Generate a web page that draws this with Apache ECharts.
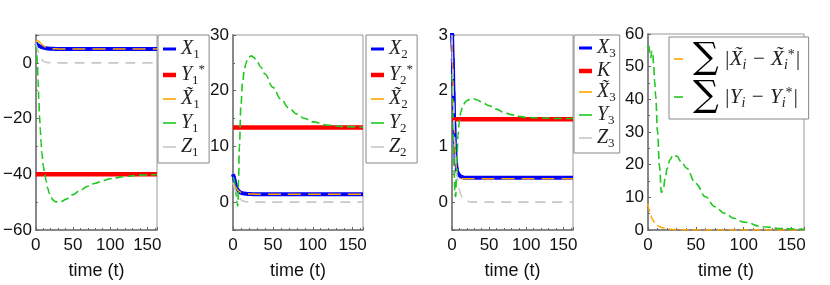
<!DOCTYPE html>
<html><head><meta charset="utf-8">
<script src="https://cdn.jsdelivr.net/npm/echarts@6/dist/echarts.min.js"></script>
<style>html,body{margin:0;padding:0;background:#fff}#c{width:830px;height:285px}</style>
</head><body><div id="c"></div>
<script>
// time points shared by all series
const T = [0,1,2,3,4,5,6,7,8,10,12,14,16,18,20,23,26,30,35,40,50,60,70,80,90,100,120,140,163];
const X_TICKS = [0,50,100,150];

// Panel 1
const X1  = [7,6.8,6.5,6.3,6.15,6.0,5.85,5.75,5.65,5.5,5.35,5.25,5.17,5.1,5.06,5.03,5.01,5,5,5,5,5,5,5,5,5,5,5,5];
const Y1S = -40;
const XT1 = [7.5,7.9,8,7.9,7.7,7.5,7.2,6.9,6.6,6.1,5.75,5.5,5.33,5.22,5.15,5.08,5.04,5.01,5,5,5,5,5,5,5,5,5,5,5];
const Y1  = [7,4,0,-6,-13,-19,-24,-28.5,-32,-37,-40,-42.5,-45,-46.8,-48,-49.2,-49.8,-50,-49.7,-49,-47.3,-45.7,-44.3,-43.2,-42.3,-41.6,-40.8,-40.3,-40.1];
const Z1  = [7,6.2,5.2,4.2,3.3,2.6,2.0,1.5,1.15,0.65,0.35,0.2,0.1,0.05,0.02,0,0,0,0,0,0,0,0,0,0,0,0,0,0];

// Panel 2
const X2  = [5,4.6,4.0,3.4,2.9,2.5,2.2,2.0,1.85,1.7,1.6,1.55,1.5,1.48,1.46,1.44,1.43,1.43,1.43,1.43,1.43,1.43,1.43,1.43,1.43,1.43,1.43,1.43,1.43];
const Y2S = 13.4;
const XT2 = [3.5,3.3,3.0,2.75,2.5,2.3,2.15,2.0,1.9,1.75,1.64,1.57,1.52,1.49,1.47,1.45,1.44,1.43,1.43,1.43,1.43,1.43,1.43,1.43,1.43,1.43,1.43,1.43,1.43];
const Y2  = [4.5,4.2,3.6,2.6,1.2,-0.2,-0.7,4,10,17.5,21.5,23.5,24.8,25.6,26.0,26.25,26.0,25.3,24.2,23.0,20.6,18.5,16.9,15.8,15.0,14.4,13.8,13.55,13.45];
const Z2  = [3.5,3.0,2.5,2.05,1.7,1.35,1.1,0.88,0.7,0.42,0.25,0.15,0.08,0.05,0.02,0,0,0,0,0,0,0,0,0,0,0,0,0,0];

// Panel 3
const X3  = [3.1,2.6,2.0,1.45,1.05,0.78,0.64,0.56,0.52,0.48,0.46,0.45,0.44,0.44,0.44,0.44,0.44,0.44,0.44,0.44,0.44,0.44,0.44,0.44,0.44,0.44,0.44,0.44,0.44];
const KV  = 1.49;
const XT3 = [2.9,2.4,1.85,1.35,1.0,0.75,0.6,0.52,0.48,0.45,0.43,0.42,0.42,0.42,0.42,0.42,0.42,0.42,0.42,0.42,0.42,0.42,0.42,0.42,0.42,0.42,0.42,0.42,0.42];
const Y3  = [2.3,1.8,1.1,0.5,0.12,0.1,0.5,0.9,1.2,1.45,1.62,1.7,1.76,1.8,1.82,1.84,1.85,1.85,1.83,1.8,1.73,1.67,1.61,1.57,1.54,1.52,1.51,1.5,1.5];
const Z3  = [3,2.4,1.8,1.3,0.95,0.7,0.55,0.45,0.36,0.22,0.13,0.08,0.05,0.03,0.02,0.01,0,0,0,0,0,0,0,0,0,0,0,0,0];

// Panel 4
const SX = [8,6.5,5.3,4.4,3.7,3.1,2.6,2.2,1.9,1.4,1.05,0.8,0.6,0.45,0.35,0.25,0.15,0.1,0.06,0.04,0.02,0.01,0,0,0,0,0,0,0];
const SY = [56,56.3,54,52.8,54.8,54,50,45.5,41,30,19.5,11.5,12.5,16,18.8,21.5,22.9,22.6,20.8,19,14.2,10.2,7.1,5.1,3.6,2.4,1.0,0.45,0.15];

const Y_RANGES = [[-60,10,20],[-5,30,10],[-0.5,3,1],[0,60,10]];
const XMAX = 163;

const C_BLUE='#0000ff', C_RED='#ff0000', C_OR='#ffa500', C_GR='#1ec81e', C_GY='#c8c8c8';
const pts = a => T.map((t,i)=>[t,a[i]]);
const flat = v => [[0,v],[XMAX,v]];

const grids = [
  {left:31, top:35, width:126, height:196},
  {left:233, top:35, width:130, height:196},
  {left:452, top:35, width:121, height:196},
  {left:648, top:34, width:156, height:199}
];
const LBL = {fontFamily:'Liberation Sans', fontSize:17, color:'#111'};
const NAME = {fontFamily:'Liberation Sans', fontSize:18, color:'#111'};

const xAxes = grids.map((g,i)=>({
  gridIndex:i, type:'value', min:0, max:XMAX, interval:50,
  axisLine:{show:true, onZero:false, lineStyle:{color:'#888', width:2}},
  axisTick:{show:true, inside:true, length:3, lineStyle:{color:'#666'}},
  minorTick:{show:true, splitNumber:5, length:2, lineStyle:{color:'#666'}},
  splitLine:{show:false},
  axisLabel:Object.assign({margin:7, showMaxLabel:false, formatter:v=>X_TICKS.includes(v)?String(v):''},LBL),
  name:'time (t)', nameLocation:'middle', nameGap:32, nameTextStyle:NAME
}));
const yAxes = grids.map((g,i)=>({
  gridIndex:i, type:'value', min:Y_RANGES[i][0], max:Y_RANGES[i][1],
  minInterval:Y_RANGES[i][2], maxInterval:Y_RANGES[i][2],
  axisLine:{show:true, onZero:false, lineStyle:{color:'#888', width:2}},
  axisTick:{show:true, inside:true, length:3, lineStyle:{color:'#666'}},
  minorTick:{show:true, splitNumber:2, length:2, lineStyle:{color:'#666'}},
  splitLine:{show:false},
  axisLabel:Object.assign({margin:4, showMaxLabel: i===1||i===2||i===3, showMinLabel: i===0||i===3,
    formatter:v=> (Math.abs(v/Y_RANGES[i][2]-Math.round(v/Y_RANGES[i][2]))<1e-6) ? String(v).replace('-','\u2212') : ''},LBL)
}));

function line(name, gi, data, color, width, dash){
  return {name, type:'line', xAxisIndex:gi, yAxisIndex:gi, data, symbol:'none', showSymbol:false,
    smooth:0.4, smoothMonotone:'x', silent:true, animation:false,
    lineStyle:{color, width, type: dash||'solid'}, itemStyle:{color}};
}
const series = [];
const panels = [
  [X1, Y1S, XT1, Y1, Z1, ['X1','Y1s','Xt1','Y1','Z1']],
  [X2, Y2S, XT2, Y2, Z2, ['X2','Y2s','Xt2','Y2','Z2']],
  [X3, KV,  XT3, Y3, Z3, ['X3','K','Xt3','Y3','Z3']]
];
panels.forEach((p,gi)=>{
  const n = p[5];
  series.push(line(n[0], gi, pts(p[0]), C_BLUE, 4));
  series.push(line(n[1], gi, flat(p[1]), C_RED, 4.5));
  series.push(line(n[2], gi, pts(p[2]), C_OR, 1.5, [13,7]));
  series.push(line(n[3], gi, pts(p[3]), C_GR, 1.6, [8,4]));
  series.push(line(n[4], gi, pts(p[4]), C_GY, 1.6, [10,7]));
});
series.push(line('SX', 3, pts(SX), C_OR, 1.5, [8,4]));
series.push(line('SY', 3, pts(SY), C_GR, 1.6, [8,4]));

const SERIF = 'Liberation Serif';
const bar = (c,h,w) => ({width:w, height:h, backgroundColor:c, verticalAlign:'middle'});
const rich = {
  bX:bar(C_BLUE,3,13), bR:bar(C_RED,4.5,13), bO:bar(C_OR,1.6,13), bG:bar(C_GR,1.6,13), bZ:bar(C_GY,1.6,13),
  sO:bar(C_OR,1.6,9), sG:bar(C_GR,1.6,9),
  g:{width:5, height:2},
  g2:{width:10, height:2},
  it:{fontFamily:SERIF, fontStyle:'italic', fontSize:20, color:'#222', lineHeight:24, verticalAlign:'middle'},
  sub:{fontFamily:SERIF, fontSize:13, color:'#222', lineHeight:24, verticalAlign:'bottom'},
  sup:{fontFamily:SERIF, fontSize:13, color:'#222', lineHeight:24, verticalAlign:'top'},
  sig:{fontFamily:'DejaVu Serif', fontSize:36, color:'#000', lineHeight:34, verticalAlign:'middle'},
  m:{fontFamily:SERIF, fontStyle:'italic', fontSize:21, color:'#222', lineHeight:34, verticalAlign:'middle'},
  s:{fontFamily:SERIF, fontStyle:'italic', fontSize:14, color:'#222', lineHeight:34, verticalAlign:'bottom', padding:[0,0,4,0]},
  p:{fontFamily:SERIF, fontSize:14, color:'#222', lineHeight:34, verticalAlign:'top', padding:[6,0,0,0]}
};
const LABELS = {
  X1:'{bX|}{g|}{it|X}{sub|1}', Y1s:'{bR|}{g|}{it|Y}{sub|1}{sup|*}', Xt1:'{bO|}{g|}{it|X\u0303}{sub|1}', Y1:'{bG|}{g|}{it|Y}{sub|1}', Z1:'{bZ|}{g|}{it|Z}{sub|1}',
  X2:'{bX|}{g|}{it|X}{sub|2}', Y2s:'{bR|}{g|}{it|Y}{sub|2}{sup|*}', Xt2:'{bO|}{g|}{it|X\u0303}{sub|2}', Y2:'{bG|}{g|}{it|Y}{sub|2}', Z2:'{bZ|}{g|}{it|Z}{sub|2}',
  X3:'{bX|}{g|}{it|X}{sub|3}', K:'{bR|}{g|}{it|K}', Xt3:'{bO|}{g|}{it|X\u0303}{sub|3}', Y3:'{bG|}{g|}{it|Y}{sub|3}', Z3:'{bZ|}{g|}{it|Z}{sub|3}',
  SX:'{sO|}{g2|}{sig|\u2211}{m| |X\u0303}{s|i}{m| \u2212 X\u0303}{s|i}{p|*}{m||}',
  SY:'{sG|}{g2|}{sig|\u2211}{m| |Y}{s|i}{m| \u2212 Y}{s|i}{p|*}{m||}'
};
function legend(names, left, top, gap, pad){
  return {orient:'vertical', left, top, selectedMode:false,
    data:names.map(n=>({name:n, icon:'none'})),
    itemWidth:0, itemHeight:14, itemGap:gap, padding:pad,
    backgroundColor:'#fff', borderColor:'#888', borderWidth:1,
    formatter:n=>LABELS[n], textStyle:{rich, padding:[0,0,0,0]}};
}
const legends = [
  legend(panels[0][5], 158, 35, 2, [4,4,4,0]),
  legend(panels[1][5], 366, 35, 2, [4,4,4,0]),
  legend(panels[2][5], 574, 35, 1, [3,4,3,0]),
  legend(['SX','SY'], 669, 37, 2, [4,8,4,0])
];

const chart = echarts.init(document.getElementById('c'), null, {renderer:'canvas'});
chart.setOption({
  animation:false, backgroundColor:'#fff',
  grid: grids.map(g=>Object.assign({show:true, borderColor:'#999', borderWidth:1, backgroundColor:'transparent'}, g)),
  xAxis:xAxes, yAxis:yAxes, legend:legends, series
});
</script></body></html>
